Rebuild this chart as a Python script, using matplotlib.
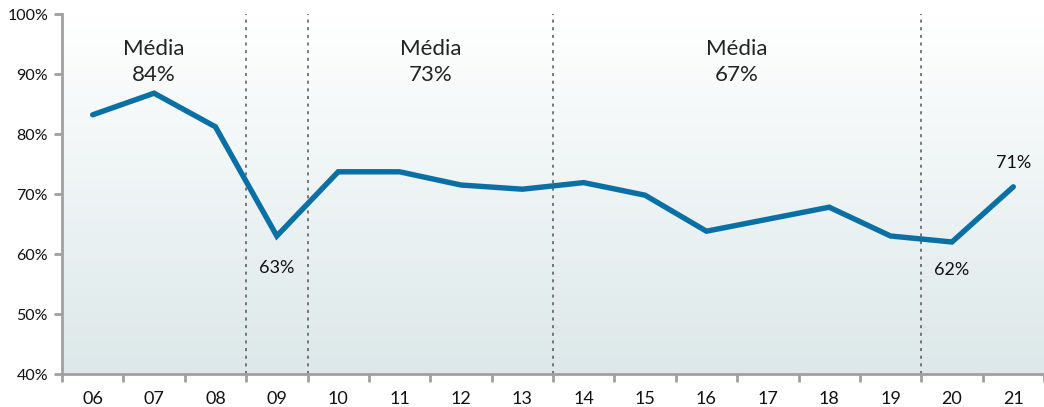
import numpy as np
import matplotlib
matplotlib.use("Agg")
import matplotlib.pyplot as plt
from matplotlib.colors import LinearSegmentedColormap

plt.rcParams["font.family"] = ["Lato", "DejaVu Sans"]

years = ["06", "07", "08", "09", "10", "11", "12", "13",
         "14", "15", "16", "17", "18", "19", "20", "21"]
values = [83.2, 86.8, 81.2, 63.0, 73.7, 73.7, 71.5, 70.8,
          71.9, 69.8, 63.8, 65.8, 67.8, 63.0, 62.0, 71.2]

# period separators (between categories) and period averages
separators = [2.5, 3.5, 7.5, 13.5]
avg_pos = [1, 5.5, 10.5]
avg_labels = ["Média\n84%", "Média\n73%", "Média\n67%"]

# index -> (label, offset of label centre from the point)
point_labels = {3: ("63%", -5.3), 14: ("62%", -4.6), 15: ("71%", 4.0)}

line_color = "#0a70a3"
spine_color = "#a0a0a0"

fig = plt.figure(figsize=(10.44, 4.07), dpi=100)
ax = fig.add_axes([62 / 1044, 33 / 407, 982 / 1044, 360 / 407])

x = np.arange(len(years))
xmin, xmax = -0.5, len(years) - 0.5

# vertical gradient background
grad = np.linspace(0, 1, 256).reshape(-1, 1)
cmap = LinearSegmentedColormap.from_list("bg", ["#dce8e9", "#ffffff"])
ax.imshow(grad, aspect="auto", cmap=cmap, extent=[xmin, xmax, 40, 100],
          origin="lower", zorder=0)

for s in separators:
    ax.axvline(s, color="#555555", lw=1.1, ls=(0, (2, 3)), zorder=1)

ax.plot(x, values, color=line_color, lw=3.9, solid_joinstyle="miter",
        solid_capstyle="round", zorder=3)

for p, t in zip(avg_pos, avg_labels):
    ax.text(p, 95.9, t, ha="center", va="top", fontsize=16,
            color="#222222", linespacing=1.4)

for i, (t, off) in point_labels.items():
    ax.text(x[i], values[i] + off, t, ha="center", va="center",
            fontsize=13, color="#111111")

ax.set_xlim(xmin, xmax)
ax.set_ylim(40, 100)

ax.set_yticks(np.arange(40, 101, 10))
ax.set_yticklabels([f"{v}%" for v in range(40, 101, 10)])

ax.set_xticks(x)
ax.set_xticklabels(years)
ax.set_xticks(np.arange(xmin, xmax + 0.01, 1), minor=True)
ax.tick_params(axis="x", which="major", length=0, pad=12, labelsize=13,
               labelcolor="#111111")
ax.tick_params(axis="x", which="minor", length=6, width=2, color=spine_color,
               direction="out")
ax.tick_params(axis="y", length=6, width=2, color=spine_color, pad=4,
               labelsize=11.5, labelcolor="#111111")

for side in ["top", "right"]:
    ax.spines[side].set_visible(False)
for side in ["left", "bottom"]:
    ax.spines[side].set_color(spine_color)
    ax.spines[side].set_linewidth(2)

fig.savefig("out.png", dpi=100)
